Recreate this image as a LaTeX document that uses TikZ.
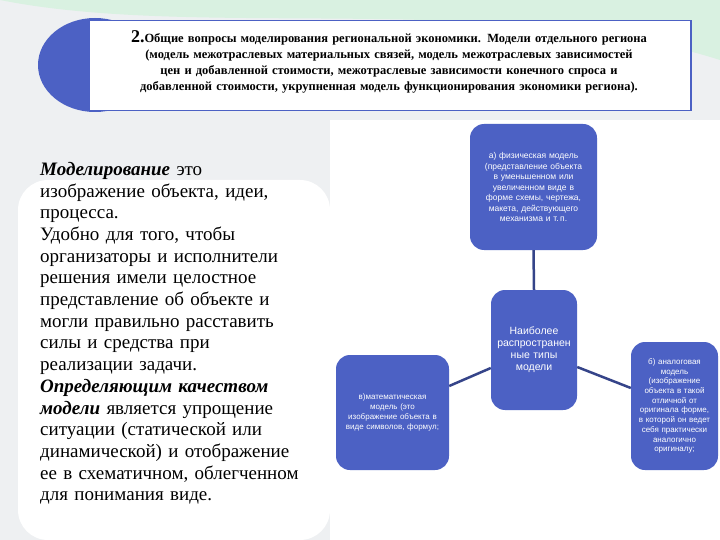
\documentclass[tikz,border=0pt]{standalone}
\usepackage{fontspec}
\setmainfont{Liberation Serif}
\newfontfamily\sansf{Liberation Sans}
\definecolor{bl}{RGB}{76,97,196}
\definecolor{bg}{RGB}{238,240,242}
\begin{document}
\begin{tikzpicture}[x=1pt,y=-1pt,
 bbox/.style={fill=bl,rounded corners=14pt,text=white,align=center,font=\sansf\fontsize{8.5}{10.5}\selectfont,inner sep=2pt},
 conn/.style={draw=bl!70!black,line width=2.5pt}]
\useasboundingbox (0,0) rectangle (720,540);
\fill[bg] (0,0) rectangle (720,540);
\fill[cyan!25!green!15] (0,0) .. controls (200,40) and (500,-10) .. (720,60) -- (720,0) -- cycle;
\fill[white,rounded corners=30pt] (18,180) rectangle (330,540);
\fill[white] (330,120) rectangle (720,540);
\fill[bl] (95,65) ellipse[x radius=57,y radius=47];
\node[draw=bl,line width=1.5pt,fill=white,minimum width=602,minimum height=90,anchor=north west,inner sep=0] (hdr) at (88,20) {};
\node[align=center,font=\fontsize{12.5}{16}\selectfont,text width=585] (ht) at (389,62) {{\fontsize{18}{16}\selectfont\textbf{2.}}\textbf{Общие вопросы моделирования региональной экономики. Модели отдельного региона (модель межотраслевых материальных связей, модель межотраслевых зависимостей цен и добавленной стоимости, межотраслевые зависимости конечного спроса и добавленной стоимости, укрупненная модель функционирования экономики региона).}};
\node[anchor=north west,align=left,text width=268,font=\fontsize{19}{21.7}\selectfont,inner sep=0] (txt) at (40,162) {\textbf{\textit{Моделирование}} это изображение объекта, идеи, процесса.\\ Удобно для того, чтобы организаторы и исполнители решения имели целостное представление об объекте и могли правильно расставить силы и средства при реализации задачи.\\ \textbf{\textit{Определяющим качеством модели}} является упрощение ситуации (статической или динамической) и отображение ее в схематичном, облегченном для понимания виде.};
\node[bbox,minimum width=127,minimum height=126,text width=110] (phys) at (533.5,187) {а) физическая модель (представление объекта в уменьшенном или увеличенном виде в форме схемы, чертежа, макета, действующего механизма и т.\,п.};
\node[bbox,minimum width=86,minimum height=120,text width=80,font=\sansf\fontsize{10.5}{12}\selectfont] (ctr) at (534,350) {Наиболее распространен ные типы модели};
\node[bbox,minimum width=113,minimum height=115,text width=96,font=\sansf\fontsize{8}{10}\selectfont] (math) at (392.5,412.5) {в)математическая модель (это изображение объекта в виде символов, формул;};
\node[bbox,minimum width=87,minimum height=128,text width=76,font=\sansf\fontsize{8}{9.7}\selectfont] (anl) at (674.5,406) {б) аналоговая модель (изображение объекта в такой отличной от оригинала форме, в которой он ведет себя практически аналогично оригиналу;};
\draw[conn] (phys.south) -- (ctr.north);
\draw[conn] (ctr.west |- 0,368) -- (math.east |- 0,386);
\draw[conn] (ctr.east |- 0,367) -- (anl.west |- 0,388);
\end{tikzpicture}
\end{document}
